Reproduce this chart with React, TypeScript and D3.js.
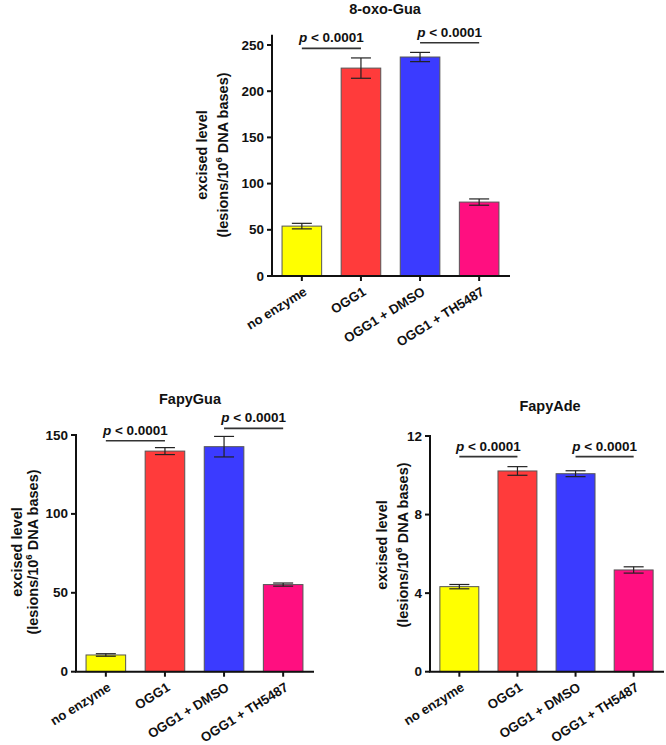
import React from "react";
import * as d3 from "d3";

// Treatment groups shared by all three panels
const groups = ["no enzyme", "OGG1", "OGG1 + DMSO", "OGG1 + TH5487"];
const barColors = ["#FFFF00", "#FF3B3B", "#3B3BFF", "#FF0F80"];

// 8-oxo-Gua (lesions / 10^6 DNA bases)
const oxoGuaMean = [54, 225, 237, 80];
const oxoGuaErr = [3, 11, 5, 3.4];
const oxoGuaTicks = [0, 50, 100, 150, 200, 250];

// FapyGua
const fapyGuaMean = [10.6, 139.8, 142.6, 55.2];
const fapyGuaErr = [0.8, 2.2, 6.5, 1.0];
const fapyGuaTicks = [0, 50, 100, 150];

// FapyAde
const fapyAdeMean = [4.33, 10.22, 10.08, 5.18];
const fapyAdeErr = [0.11, 0.22, 0.15, 0.16];
const fapyAdeTicks = [0, 4, 8, 12];

// Significance brackets: compared groups and bracket height (data units)
const oxoGuaBrackets = [
  { a: 0, b: 1, y: 246.4, p: "0.0001" },
  { a: 2, b: 3, y: 252.5, p: "0.0001" },
];
const fapyGuaBrackets = [
  { a: 0, b: 1, y: 146.4, p: "0.0001" },
  { a: 2, b: 3, y: 154.2, p: "0.0001" },
];
const fapyAdeBrackets = [
  { a: 0, b: 1, y: 10.95, p: "0.0001" },
  { a: 2, b: 3, y: 10.95, p: "0.0001" },
];

const FONT = "'Liberation Sans', Arial, Helvetica, sans-serif";

type Bracket = { a: number; b: number; y: number; p: string };

type Layout = {
  x0: number;
  x1: number;
  y0: number;
  yRef: number; // pixel position of the top tick
  axisMax: number;
  titleX: number;
  titleY: number;
  labX1: number;
  labX2: number;
  labY: number;
};

function Panel(props: {
  title: string;
  means: number[];
  errs: number[];
  ticks: number[];
  brackets: Bracket[];
  layout: Layout;
}) {
  const { title, means, errs, ticks, brackets, layout } = props;
  const topTick = ticks[ticks.length - 1];
  const x = d3
    .scaleBand<string>()
    .domain(groups)
    .range([layout.x0, layout.x1])
    .paddingInner(0.33)
    .paddingOuter(0.17);
  const y = d3.scaleLinear().domain([0, topTick]).range([layout.y0, layout.yRef]);
  const bw = x.bandwidth();
  const cx = (i: number) => (x(groups[i]) as number) + bw / 2;
  const capHalf = 10;

  return (
    <g fontFamily={FONT}>
      <text
        x={layout.titleX}
        y={layout.titleY}
        textAnchor="middle"
        fontSize={14.5}
        fontWeight="bold"
        fill="#111"
      >
        {title}
      </text>

      {/* bars */}
      {means.map((m, i) => (
        <rect
          key={"bar" + i}
          x={x(groups[i])}
          y={y(m)}
          width={bw}
          height={y(0) - y(m)}
          fill={barColors[i]}
          stroke="#555"
          strokeWidth={1}
        />
      ))}

      {/* error bars */}
      {means.map((m, i) => {
        const c = cx(i);
        const hi = y(m + errs[i]);
        const lo = y(m - errs[i]);
        return (
          <g key={"err" + i} stroke="#222" strokeWidth={1.2}>
            <line x1={c} x2={c} y1={hi} y2={lo} />
            <line x1={c - capHalf} x2={c + capHalf} y1={hi} y2={hi} />
            <line x1={c - capHalf} x2={c + capHalf} y1={lo} y2={lo} />
          </g>
        );
      })}

      {/* axes */}
      <path
        d={`M${layout.x0},${y(layout.axisMax)}V${y(0)}H${layout.x1}`}
        fill="none"
        stroke="#111"
        strokeWidth={2}
        strokeLinecap="square"
      />
      {ticks.map((t) => (
        <g key={"yt" + t}>
          <line x1={layout.x0 - 5} x2={layout.x0} y1={y(t)} y2={y(t)} stroke="#111" strokeWidth={2} />
          <text
            x={layout.x0 - 8}
            y={y(t)}
            textAnchor="end"
            dominantBaseline="central"
            fontSize={13.5}
            fontWeight="bold"
            fill="#111"
          >
            {t}
          </text>
        </g>
      ))}
      {groups.map((g, i) => {
        const c = cx(i);
        const ax = c + 6;
        const ay = y(0) + 18;
        return (
          <g key={"xt" + i}>
            <line x1={c} x2={c} y1={y(0)} y2={y(0) + 5} stroke="#111" strokeWidth={2} />
            <text
              x={ax}
              y={ay}
              textAnchor="end"
              fontSize={13.2}
              fontWeight="bold"
              fill="#111"
              transform={`rotate(-32,${ax},${ay})`}
            >
              {g}
            </text>
          </g>
        );
      })}

      {/* y axis title */}
      <g fontSize={14.5} fontWeight="bold" fill="#111" textAnchor="middle">
        <text
          x={layout.labX1}
          y={layout.labY}
          dominantBaseline="central"
          transform={`rotate(-90,${layout.labX1},${layout.labY})`}
        >
          excised level
        </text>
        <text
          x={layout.labX2}
          y={layout.labY}
          dominantBaseline="central"
          transform={`rotate(-90,${layout.labX2},${layout.labY})`}
        >
          (lesions/10
          <tspan fontSize={9.5} dy={-5}>
            6
          </tspan>
          <tspan dy={5}> DNA bases)</tspan>
        </text>
      </g>

      {/* significance brackets */}
      {brackets.map((b, k) => {
        const x1 = cx(b.a);
        const x2 = cx(b.b);
        const yy = y(b.y);
        return (
          <g key={"br" + k}>
            <line x1={x1} x2={x2} y1={yy} y2={yy} stroke="#333" strokeWidth={1.6} />
            <text
              x={(x1 + x2) / 2}
              y={yy - 6}
              textAnchor="middle"
              fontSize={13.5}
              fontWeight="bold"
              fill="#111"
            >
              <tspan fontStyle="italic">p</tspan>
              {" < " + b.p}
            </text>
          </g>
        );
      })}
    </g>
  );
}

const oxoLayout: Layout = {
  x0: 272, x1: 509, y0: 276, yRef: 45, axisMax: 260,
  titleX: 385, titleY: 14, labX1: 202, labX2: 222.7, labY: 155,
};
const fapyGuaLayout: Layout = {
  x0: 76, x1: 313, y0: 671.7, yRef: 435, axisMax: 150,
  titleX: 190, titleY: 404, labX1: 16.7, labX2: 33.3, labY: 552,
};
const fapyAdeLayout: Layout = {
  x0: 430, x1: 663, y0: 671.7, yRef: 436, axisMax: 12,
  titleX: 550, titleY: 411, labX1: 381.7, labX2: 403.3, labY: 545,
};

export default function App() {
  return (
    <svg
      width={666}
      height={745}
      viewBox="0 0 666 745"
      style={{ position: "absolute", left: 0, top: 0, background: "#fff" }}
    >
      <rect width={666} height={745} fill="#fff" />
      <Panel
        title="8-oxo-Gua"
        means={oxoGuaMean}
        errs={oxoGuaErr}
        ticks={oxoGuaTicks}
        brackets={oxoGuaBrackets}
        layout={oxoLayout}
      />
      <Panel
        title="FapyGua"
        means={fapyGuaMean}
        errs={fapyGuaErr}
        ticks={fapyGuaTicks}
        brackets={fapyGuaBrackets}
        layout={fapyGuaLayout}
      />
      <Panel
        title="FapyAde"
        means={fapyAdeMean}
        errs={fapyAdeErr}
        ticks={fapyAdeTicks}
        brackets={fapyAdeBrackets}
        layout={fapyAdeLayout}
      />
    </svg>
  );
}
